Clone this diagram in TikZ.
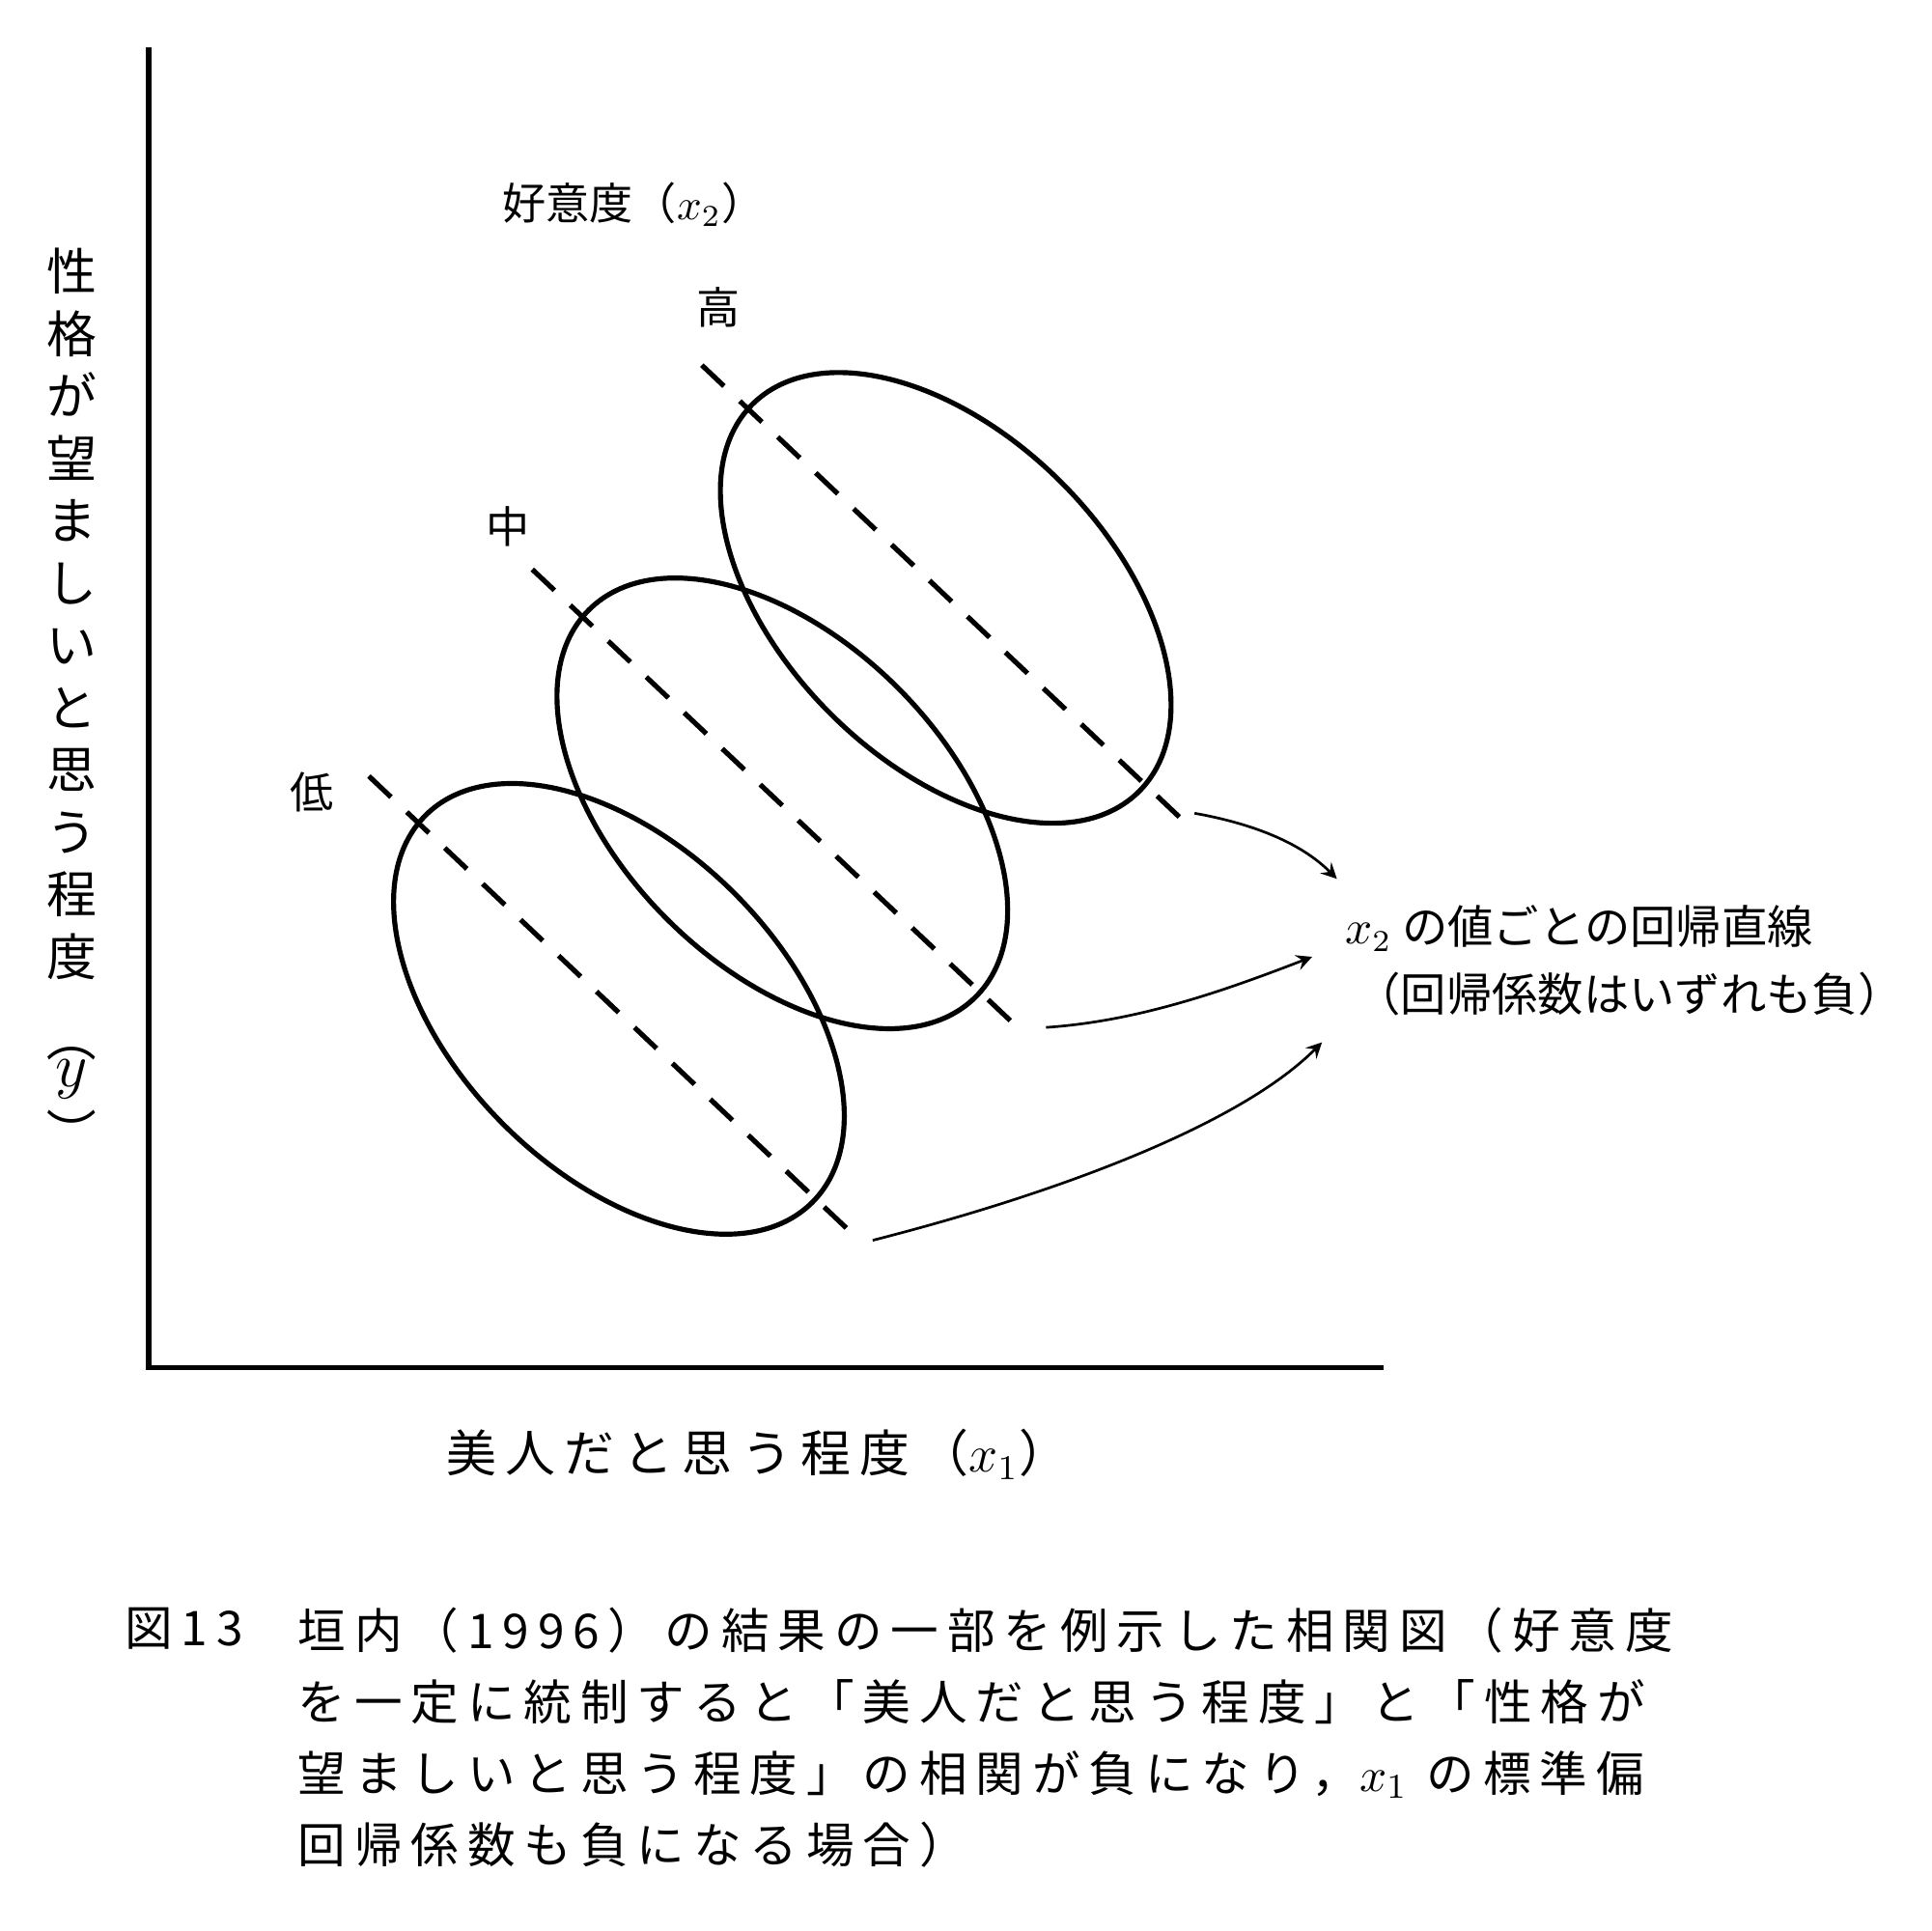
\documentclass[tikz,border=0pt]{standalone}
\usepackage{fontspec}
\usepackage{graphicx}
\setmainfont{Noto Sans CJK JP}
\newfontfamily\widecjk[LetterSpace=18]{Noto Sans CJK JP}
\begin{document}
\begin{tikzpicture}[x=0.01cm,y=-0.01cm,
  thk/.style={line width=1.15pt},
  dsh/.style={line width=1.15pt,dash pattern=on 7pt off 5pt},
  lab/.style={font=\fontsize{10pt}{12pt}\selectfont,inner sep=0},
  big/.style={font=\fontsize{11.5pt}{14pt}\selectfont,inner sep=0},
  captext/.style={font=\widecjk\fontsize{11pt}{16.4pt}\selectfont,inner sep=0,anchor=north west,align=left},
  arr/.style={->,line width=0.6pt,>=stealth}]
\useasboundingbox (0,0) rectangle (1560,1560);
\coordinate (top) at (120,38);
\coordinate (org) at (120,1105);
\coordinate (xr) at (1118,1105);
\draw[line width=1.2pt] (top) -- (org) -- (xr);
% ellipses
\draw[thk] (500,815) ellipse[x radius=221,y radius=132,rotate=-45];
\draw[thk] (632,649) ellipse[x radius=221,y radius=132,rotate=-45];
\draw[thk] (764,483) ellipse[x radius=221,y radius=132,rotate=-45];
% dashed lines
\coordinate (l1) at (298,627); \coordinate (l2) at (690,998);
\coordinate (m1) at (430,460); \coordinate (m2) at (822,830);
\coordinate (h1) at (567,295); \coordinate (h2) at (958,665);
\draw[dsh] (l1) -- (l2);
\draw[dsh] (m1) -- (m2);
\draw[dsh] (h1) -- (h2);
\node[lab] (low) at (252,640) {低};
\node[lab] (mid) at (410,425) {中};
\node[lab] (high) at (580,248) {高};
\node[lab] (fav) at (512,165) {好意度（\(x_2\)）};
% arrows
\coordinate (a1s) at (965,657); \coordinate (a1e) at (1080,710);
\coordinate (a2s) at (845,830); \coordinate (a2e) at (1060,773);
\coordinate (a3s) at (705,1002); \coordinate (a3e) at (1068,842);
\draw[arr] (a1s) .. controls (1010,665) and (1050,680) .. (a1e);
\draw[arr] (a2s) .. controls (920,825) and (990,800) .. (a2e);
\draw[arr] (a3s) .. controls (850,965) and (1000,910) .. (a3e);
\node[lab,anchor=west,font=\fontsize{10.5pt}{12pt}\selectfont] (reg1) at (1086,750) {\(x_2\) の値ごとの回帰直線};
\node[lab,anchor=west,font=\fontsize{10.5pt}{12pt}\selectfont] (reg2) at (1094,803) {（回帰係数はいずれも負）};
% y label
\node[big,align=center,anchor=north] (ylab) at (58,200) {性\\[0.3pt]格\\[0.3pt]が\\[0.3pt]望\\[0.3pt]ま\\[0.3pt]し\\[0.3pt]い\\[0.3pt]と\\[0.3pt]思\\[0.3pt]う\\[0.3pt]程\\[0.3pt]度};
\node[big] (yp1) at (58,838) {\rotatebox{-90}{（}};
\node[big,font=\fontsize{14pt}{14pt}\selectfont] (yv) at (58,872) {\(y\)};
\node[big] (yp2) at (58,915) {\rotatebox{-90}{）}};
\node[big,font=\widecjk\fontsize{11.5pt}{14pt}\selectfont] (xlab) at (612,1175) {美人だと思う程度（\(x_1\)）};
% caption
\node[captext] (c0) at (100,1298) {図13};
\node[captext] (c1) at (240,1298) {垣内（1996）の結果の一部を例示した相関図（好意度\\を一定に統制すると「美人だと思う程度」と「性格が\\望ましいと思う程度」の相関が負になり，\(x_1\) の標準偏\\回帰係数も負になる場合）};
\end{tikzpicture}
\end{document}
